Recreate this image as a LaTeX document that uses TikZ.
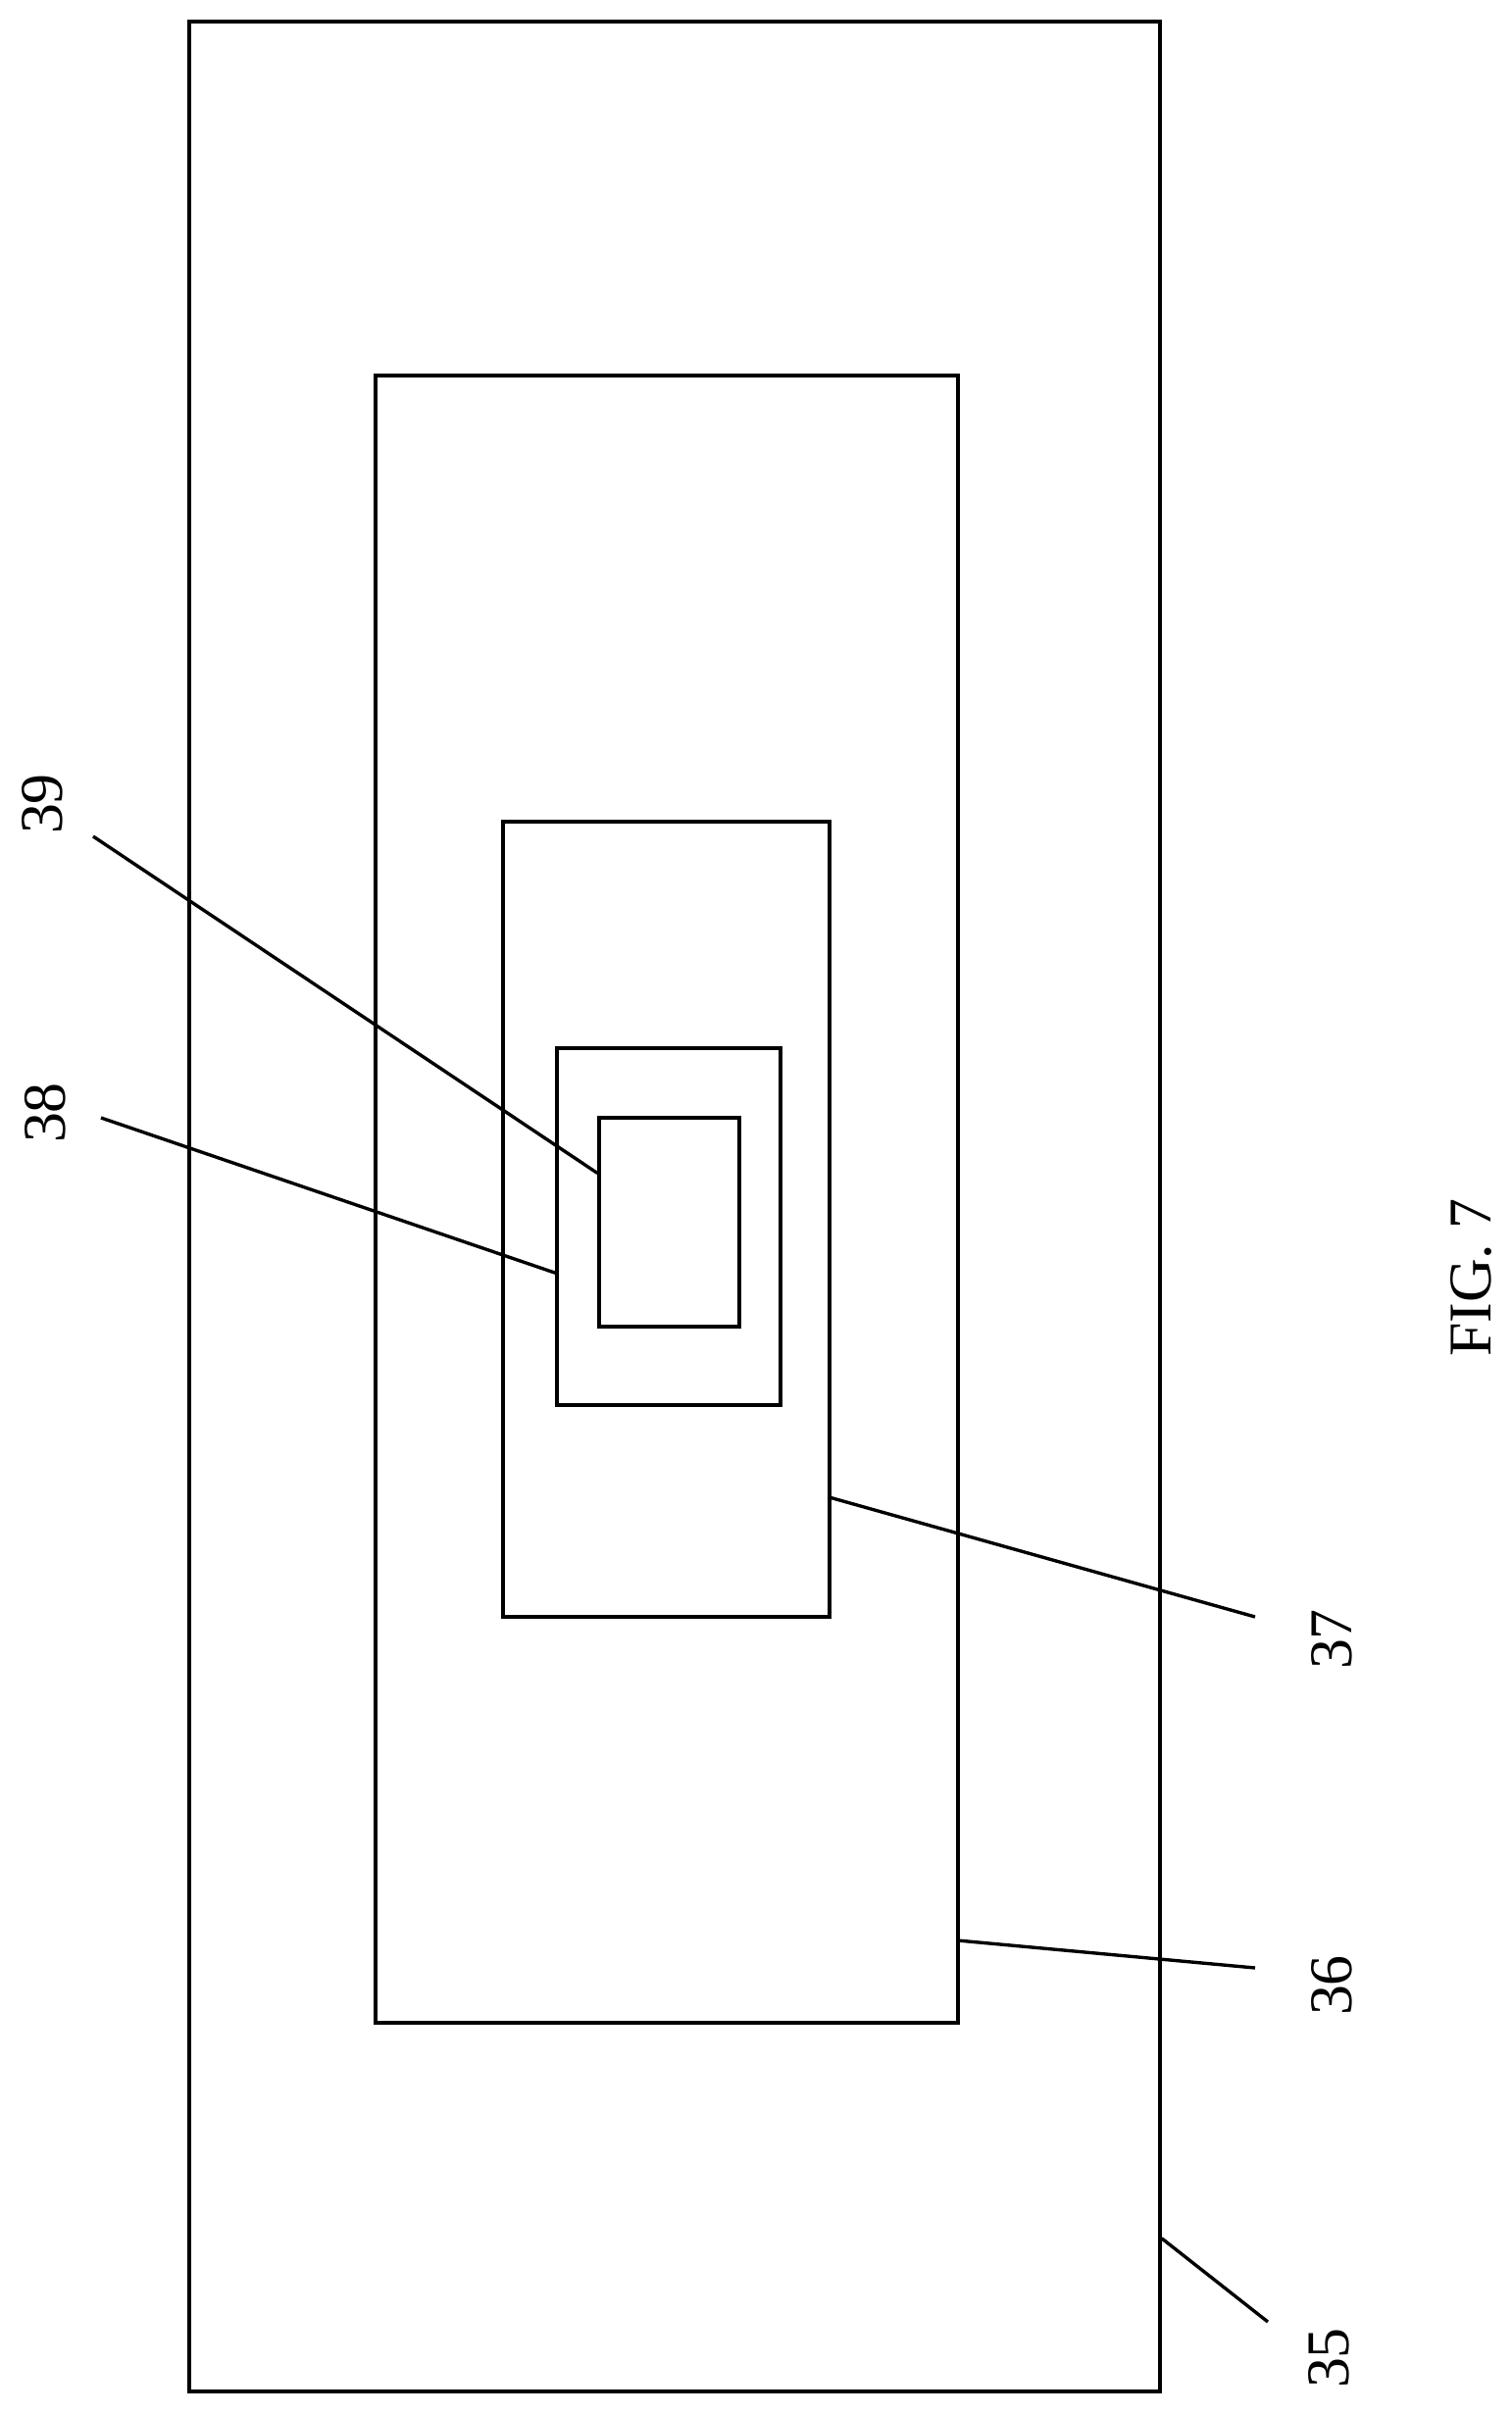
\documentclass[tikz,border=0pt]{standalone}
\usepackage{fontspec}
\setmainfont{Liberation Serif}
\begin{document}
\begin{tikzpicture}[x=0.025cm, y=-0.025cm, line width=2.4pt,
    box/.style={draw, rectangle, inner sep=0pt},
    lbl/.style={rotate=90, font=\fontsize{44}{50}\selectfont}]
    \useasboundingbox (0,0) rectangle (1541,2462);
    \node[box, minimum width=990*0.025cm, minimum height=2417*0.025cm] (r35) at (688,1230.5) {};
    \node[box, minimum width=594*0.025cm, minimum height=1680*0.025cm] (r36) at (680,1223) {};
    \node[box, minimum width=333*0.025cm, minimum height=811*0.025cm] (r37) at (679.5,1243.5) {};
    \node[box, minimum width=228*0.025cm, minimum height=364*0.025cm] (r38) at (682,1251) {};
    \node[box, minimum width=143*0.025cm, minimum height=213*0.025cm] (r39) at (682.5,1246.5) {};
    \coordinate (e39) at (95,853);
    \coordinate (e38) at (103,1140);
    \coordinate (e37) at (1280,1649);
    \coordinate (e36) at (1280,2007);
    \coordinate (e35) at (1293,2368);
    \draw (e39) -- ([yshift=1.25cm]r39.west);
    \draw (e38) -- ([yshift=-1.18cm]r38.west);
    \draw ([yshift=-7.1cm]r37.east) -- (e37);
    \draw ([yshift=-18.9cm]r36.east) -- (e36);
    \draw ([yshift=-26.3cm]r35.east) -- (e35);
    \node[lbl] (l39) at (43,820) {39};
    \node[lbl] (l38) at (46,1135) {38};
    \node[lbl] (l37) at (1358,1672) {37};
    \node[lbl] (l36) at (1358,2025) {36};
    \node[lbl] (l35) at (1355,2405) {35};
    \node[lbl] (fig) at (1500,1303) {FIG. 7};
\end{tikzpicture}
\end{document}
